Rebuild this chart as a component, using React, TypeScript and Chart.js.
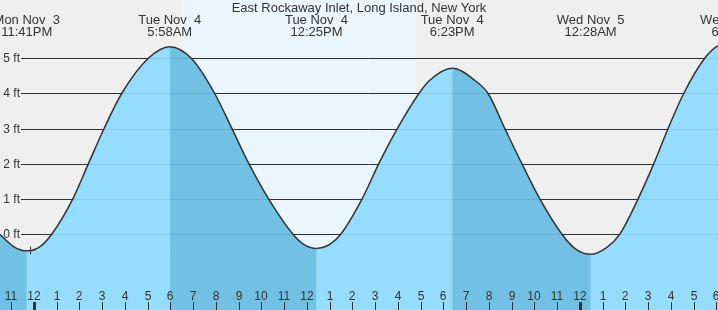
import React, { useEffect, useRef } from "react";
import { Chart, registerables } from "chart.js";

Chart.register(...registerables);

const TITLE = "East Rockaway Inlet, Long Island, New York";

// hours relative to midnight starting Tue Nov 4
const tideHours = [
  -1.5, -0.917, -0.317, 0.283, 0.778, 1.701, 2.387, 3.077, 3.855, 5.024, 5.967, 6.914, 7.943,
  8.703, 9.451, 10.316, 11.385, 11.817, 12.417, 13.017, 13.481, 14.418, 15.152, 15.969, 16.92,
  17.383, 18.383, 19.383, 19.96, 20.7, 21.45, 22.24, 23.209, 23.767, 24.467, 25.167, 25.745,
  26.549, 27.24, 27.868, 28.558, 29.481, 30.066, 30.767,
];
const tideFeet = [
  0.0, -0.34, -0.47, -0.34, 0, 1, 2, 3, 4, 5, 5.33, 5, 4,
  3, 2, 1, 0, -0.27, -0.4, -0.28, 0, 1, 2, 3, 4,
  4.37, 4.72, 4.37, 4, 3, 2, 1, 0, -0.4, -0.57, -0.38, 0,
  1, 2, 3, 4, 5, 5.36, 5.45,
];

const eventHours = [-0.317, 5.967, 12.417, 18.383, 24.467, 30.767];
const eventDates = ["Mon Nov  3", "Tue Nov  4", "Tue Nov  4", "Tue Nov  4", "Wed Nov  5", "Wed Nov  5"];
const eventTimes = ["11:41PM", "5:58AM", "12:25PM", "6:23PM", "12:28AM", "6:46AM"];

const hourTicks = [
  -1, 0, 1, 2, 3, 4, 5, 6, 7, 8, 9, 10, 11, 12, 13, 14, 15, 16, 17, 18, 19, 20, 21, 22, 23, 24,
  25, 26, 27, 28, 29, 30,
];
const hourLabels = [
  "11", "12", "1", "2", "3", "4", "5", "6", "7", "8", "9", "10", "11", "12", "1", "2", "3", "4",
  "5", "6", "7", "8", "9", "10", "11", "12", "1", "2", "3", "4", "5", "6",
];
const midnightHours = [0, 24];

const footTicks = [0, 1, 2, 3, 4, 5];
const footLabels = ["0 ft", "1 ft", "2 ft", "3 ft", "4 ft", "5 ft"];

const daylightStart = [6.47];
const daylightEnd = [16.79];

const nowHour = [-0.15];
const nowFeet = [-0.46];

const X_MIN = -1.4945;
const X_MAX = 30.066;
const Y_MIN = -2.1506;
const Y_MAX = 6.6562;

const NIGHT = "#efefef";
const DAY = "#ebf5fe";
const LIGHT = "#96dcfc";
const DARK = "#72c0e4";
const INK = "#333333";
const FONT = "'Liberation Sans', Arial, sans-serif";

const decor = {
  id: "tideDecor",
  beforeDraw(chart: any) {
    const { ctx, width, height } = chart;
    const x = chart.scales.x;
    ctx.save();
    ctx.fillStyle = NIGHT;
    ctx.fillRect(0, 0, width, height);
    ctx.fillStyle = DAY;
    for (let i = 0; i < daylightStart.length; i++) {
      const a = x.getPixelForValue(daylightStart[i]);
      const b = x.getPixelForValue(daylightEnd[i]);
      ctx.fillRect(Math.round(a), 0, Math.round(b) - Math.round(a), height);
    }
    ctx.restore();
  },
  beforeDatasetsDraw(chart: any) {
    const { ctx, width } = chart;
    const y = chart.scales.y;
    ctx.save();
    ctx.strokeStyle = INK;
    ctx.lineWidth = 1;
    for (const v of footTicks) {
      const py = Math.round(y.getPixelForValue(v)) + 0.5;
      ctx.beginPath();
      ctx.moveTo(21, py);
      ctx.lineTo(width, py);
      ctx.stroke();
    }
    ctx.restore();
  },
  afterDatasetsDraw(chart: any) {
    const { ctx, width, height } = chart;
    const x = chart.scales.x;
    const y = chart.scales.y;
    ctx.save();
    // faint grid lines over the water
    ctx.strokeStyle = "rgba(0,40,80,0.10)";
    ctx.lineWidth = 1;
    for (const v of footTicks) {
      const py = Math.round(y.getPixelForValue(v)) + 0.5;
      ctx.beginPath();
      ctx.moveTo(21, py);
      ctx.lineTo(width, py);
      ctx.stroke();
    }
    // y labels
    ctx.fillStyle = INK;
    ctx.font = `12px ${FONT}`;
    ctx.textAlign = "right";
    ctx.textBaseline = "alphabetic";
    footTicks.forEach((v, i) => {
      const py = y.getPixelForValue(v);
      ctx.fillText(footLabels[i], 20, Math.round(py) + 4);
    });
    // x ticks & labels
    ctx.textAlign = "center";
    ctx.font = `12px ${FONT}`;
    hourTicks.forEach((h, i) => {
      const px = Math.round(x.getPixelForValue(h));
      ctx.fillText(hourLabels[i], px, 300);
      const thick = midnightHours.includes(h);
      if (thick) ctx.fillRect(px - 1, 302, 3, height - 302);
      else ctx.fillRect(px, 302, 1, height - 302);
    });
    // event labels
    ctx.font = `13px ${FONT}`;
    eventHours.forEach((h, i) => {
      const px = x.getPixelForValue(h);
      ctx.fillText(eventDates[i], px, 24);
      ctx.fillText(eventTimes[i], px, 36);
    });
    // title
    ctx.fillText(TITLE, width / 2, 12);
    ctx.restore();
  },
};

export default function App() {
  const ref = useRef<HTMLCanvasElement | null>(null);
  useEffect(() => {
    if (!ref.current) return;
    const points = tideHours.map((h, i) => ({ x: h, y: tideFeet[i] }));
    const chart = new Chart(ref.current, {
      type: "line",
      data: {
        datasets: [
          {
            data: points,
            borderColor: INK,
            borderWidth: 1.5,
            backgroundColor: LIGHT,
            fill: "start",
            pointRadius: 0,
            cubicInterpolationMode: "monotone",
            order: 1,
            segment: {
              backgroundColor: (c: any) => (c.p1.parsed.y < c.p0.parsed.y ? DARK : LIGHT),
            },
          } as any,
          {
            // base water fill underneath, avoids seams between rising/falling shading
            data: points,
            borderWidth: 0,
            borderColor: "rgba(0,0,0,0)",
            backgroundColor: LIGHT,
            fill: "start",
            pointRadius: 0,
            cubicInterpolationMode: "monotone",
            order: 2,
          } as any,
          {
            type: "scatter",
            data: nowHour.map((h, i) => ({ x: h, y: nowFeet[i] })),
            pointStyle: "cross",
            pointRadius: 4,
            borderColor: INK,
            borderWidth: 1,
            backgroundColor: INK,
            order: 0,
          } as any,
        ],
      },
      options: {
        animation: false,
        responsive: false,
        devicePixelRatio: 1,
        layout: { padding: 0, autoPadding: false },
        events: [],
        scales: {
          x: { type: "linear", min: X_MIN, max: X_MAX, display: false },
          y: { type: "linear", min: Y_MIN, max: Y_MAX, display: false },
        },
        plugins: { legend: { display: false }, tooltip: { enabled: false }, title: { display: false } },
      },
      plugins: [decor],
    });
    return () => chart.destroy();
  }, []);
  return (
    <div style={{ position: "fixed", left: 0, top: 0, width: 718, height: 310 }}>
      <canvas ref={ref} width={718} height={310} style={{ display: "block" }} />
    </div>
  );
}
